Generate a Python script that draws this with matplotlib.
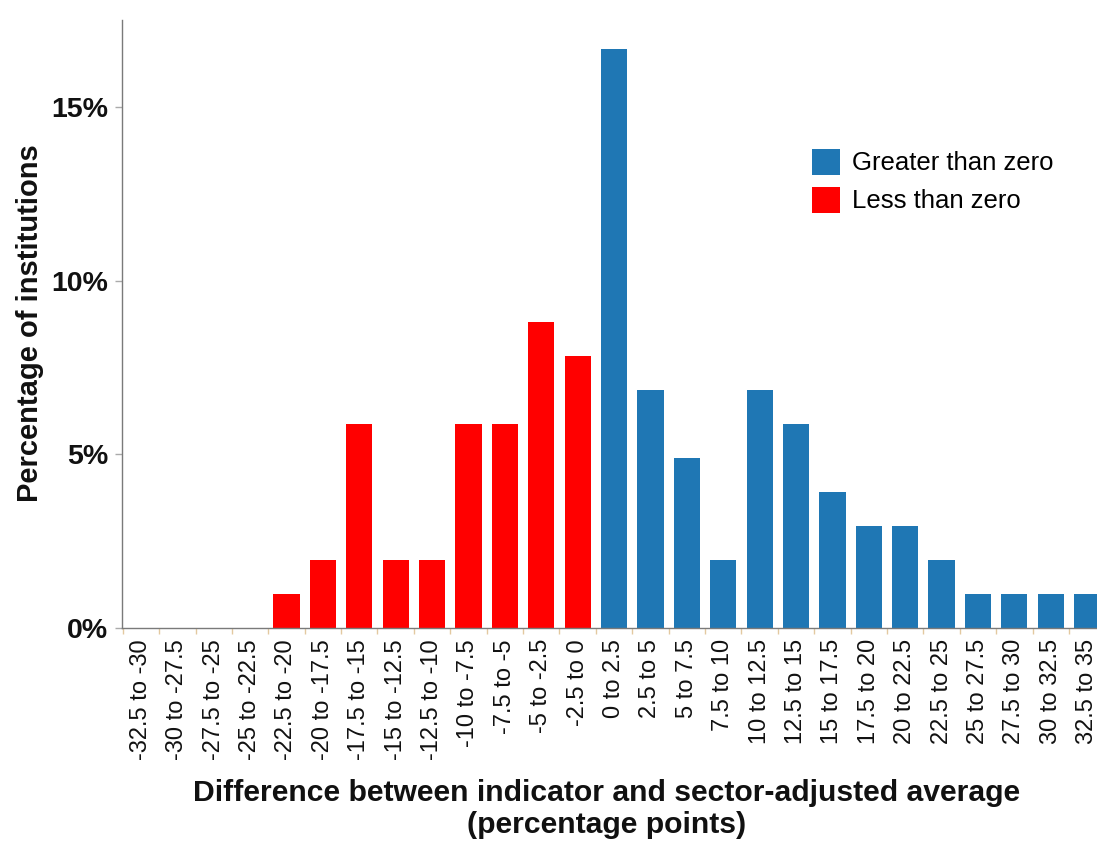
import matplotlib
matplotlib.use("Agg")
import matplotlib.pyplot as plt
from matplotlib.patches import Patch
import numpy as np

categories = ["-32.5 to -30", "-30 to -27.5", "-27.5 to -25", "-25 to -22.5",
              "-22.5 to -20", "-20 to -17.5", "-17.5 to -15", "-15 to -12.5",
              "-12.5 to -10", "-10 to -7.5", "-7.5 to -5", "-5 to -2.5",
              "-2.5 to 0", "0 to 2.5", "2.5 to 5", "5 to 7.5", "7.5 to 10",
              "10 to 12.5", "12.5 to 15", "15 to 17.5", "17.5 to 20",
              "20 to 22.5", "22.5 to 25", "25 to 27.5", "27.5 to 30",
              "30 to 32.5", "32.5 to 35"]
percent = [0, 0, 0, 0, 0.98, 1.96, 5.88, 1.96, 1.96, 5.88, 5.88, 8.82, 7.84,
           16.67, 6.86, 4.90, 1.96, 6.86, 5.88, 3.92, 2.94, 2.94, 1.96,
           0.98, 0.98, 0.98, 0.98]
group = ["Less than zero"] * 13 + ["Greater than zero"] * 14
group_colors = {"Greater than zero": "#1f77b4", "Less than zero": "#ff0000"}
y_ticks = [0, 5, 10, 15]

plt.rcParams['font.family'] = ['Liberation Sans', 'DejaVu Sans']

W, H = 1097, 841
fig = plt.figure(figsize=(W / 100, H / 100), dpi=100)
left, right, top, bottom = 122, 1109, 20, 628
ax = fig.add_axes([left / W, 1 - bottom / H, (right - left) / W, (bottom - top) / H])

x = np.arange(len(categories))
ax.bar(x, percent, width=0.72, color=[group_colors[g] for g in group], zorder=2)

ax.set_xlim(-0.52, len(categories) - 1 + 0.6)
ax.set_ylim(0, 17.5)

for s in ["top", "right"]:
    ax.spines[s].set_visible(False)
for s in ["left", "bottom"]:
    ax.spines[s].set_color("#7a7a7a")
    ax.spines[s].set_linewidth(1.0)

ax.set_xticks(x)
ax.set_xticklabels(categories, rotation=90, fontsize=17, color="#111111")
ax.tick_params(axis="x", which="major", length=0, pad=8)
ax.set_xticks(np.arange(-0.5, len(categories), 1.0), minor=True)
ax.tick_params(axis="x", which="minor", length=4, width=1, color="#e3c9a0")

ax.set_yticks(y_ticks)
ax.set_yticklabels([f"{v}%" for v in y_ticks], fontsize=20.5, fontweight="bold", color="#111111")
ax.tick_params(axis="y", length=5, width=1, color="#aaaaaa", pad=5)

fig.text(30 / W, 1 - 323 / H, "Percentage of institutions", rotation=90,
         ha="center", va="center", fontsize=21, fontweight="bold", color="#111111")
fig.text(607 / W, 1 - 801 / H,
         "Difference between indicator and sector-adjusted average",
         ha="center", va="baseline", fontsize=21.7, fontweight="bold", color="#111111")
fig.text(607 / W, 1 - 833 / H, "(percentage points)",
         ha="center", va="baseline", fontsize=21.7, fontweight="bold", color="#111111")

handles = [Patch(facecolor=group_colors[g], edgecolor="none") for g in ["Greater than zero", "Less than zero"]]
fig.legend(handles, ["Greater than zero", "Less than zero"], loc="upper left",
           bbox_to_anchor=(812 / W, 1 - 149 / H), frameon=False, fontsize=18.5,
           handlelength=1.1, handleheight=1.15, handletextpad=0.45,
           labelspacing=0.45, borderpad=0, borderaxespad=0)

fig.savefig("out.png", dpi=100)
